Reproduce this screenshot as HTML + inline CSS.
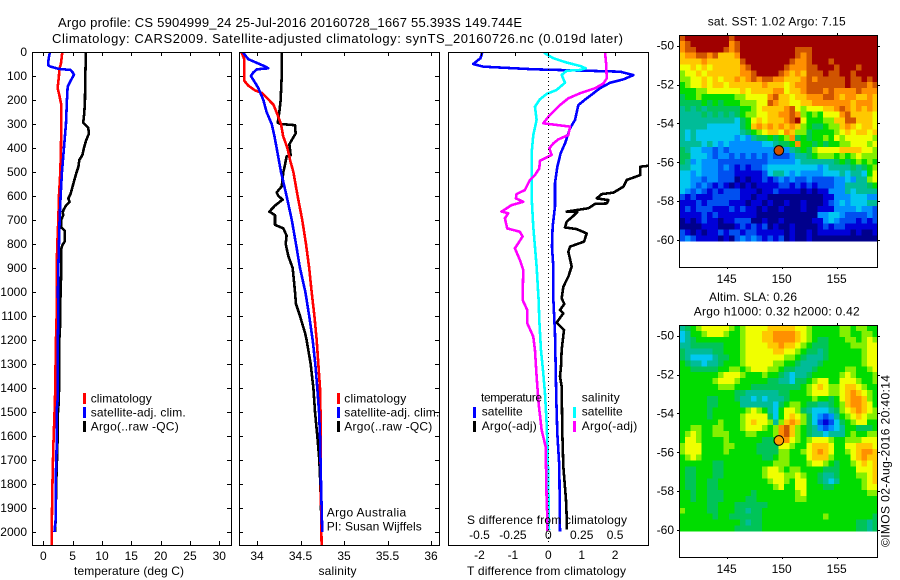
<!DOCTYPE html>
<html lang="en">
<head>
<meta charset="utf-8">
<title>Argo profile</title>
<style>
html,body{margin:0;padding:0;background:#fff;}
svg{display:block;}
text{font-family:"Liberation Sans",sans-serif;font-size:12px;fill:#000;}
.t13{font-size:13px;}
.crisp{shape-rendering:crispEdges;}
</style>
</head>
<body>
<svg id="chart" xmlns="http://www.w3.org/2000/svg" width="900" height="580" viewBox="0 0 900 580">
<defs>
<clipPath id="clip-temp"><rect x="32" y="52" width="199" height="493"/></clipPath>
<clipPath id="clip-sal"><rect x="239" y="52" width="200" height="493"/></clipPath>
<clipPath id="clip-diff"><rect x="448" y="52" width="200" height="493"/></clipPath>
</defs>
<rect width="900" height="580" fill="#fff"/>
<text class="t13" x="58" y="27" textLength="464">Argo profile: CS 5904999_24 25-Jul-2016 20160728_1667 55.393S 149.744E</text>
<text class="t13" x="52" y="43" textLength="571">Climatology: CARS2009. Satellite-adjusted climatology: synTS_20160726.nc (0.019d later)</text>

<g id="map-sst"></g>
<g id="map-sla"></g>
<g id="temp-lines" clip-path="url(#clip-temp)"></g>
<g id="sal-lines" clip-path="url(#clip-sal)"></g>
<g id="diff-lines" clip-path="url(#clip-diff)"></g>
<g id="axes"></g>

<text x="74" y="575" textLength="110">temperature (deg C)</text>
<text x="318.5" y="575" textLength="38">salinity</text>
<text x="467" y="575" textLength="159">T difference from climatology</text>
<text x="467" y="524" textLength="160">S difference from climatology</text>

<g>
<rect class="crisp" x="83" y="393" width="3" height="11" fill="#f00"/>
<rect class="crisp" x="83" y="407" width="3" height="11" fill="#00f"/>
<rect class="crisp" x="83" y="421" width="3" height="11" fill="#000"/>
<text x="90.7" y="402.3" textLength="61">climatology</text>
<text x="90.7" y="416.3" textLength="95">satellite-adj. clim.</text>
<text x="90.7" y="430.7" textLength="88">Argo(..raw -QC)</text>
</g>
<g>
<rect class="crisp" x="337" y="393" width="3" height="11" fill="#f00"/>
<rect class="crisp" x="337" y="407" width="3" height="11" fill="#00f"/>
<rect class="crisp" x="337" y="421" width="3" height="11" fill="#000"/>
<text x="344.3" y="402.3" textLength="62">climatology</text>
<text x="344.3" y="416.3" textLength="95">satellite-adj. clim.</text>
<text x="344.3" y="430.7" textLength="88">Argo(..raw -QC)</text>
<text x="326.7" y="516.7" textLength="79.5">Argo Australia</text>
<text x="326.7" y="530.7" textLength="95">PI: Susan Wijffels</text>
</g>
<g>
<rect class="crisp" x="473" y="407" width="3" height="11" fill="#00f"/>
<rect class="crisp" x="473" y="421" width="3" height="11" fill="#000"/>
<rect class="crisp" x="573" y="407" width="3" height="11" fill="#0ff"/>
<rect class="crisp" x="573" y="421" width="3" height="11" fill="#f0f"/>
<text x="481" y="401.7" textLength="61">temperature</text>
<text x="481.7" y="415.7" textLength="41">satellite</text>
<text x="481.7" y="430" textLength="55">Argo(-adj)</text>
<text x="581.7" y="401.7" textLength="38">salinity</text>
<text x="581.7" y="415.7" textLength="41">satellite</text>
<text x="581.7" y="430" textLength="55.5">Argo(-adj)</text>
</g>

<text x="707.7" y="25.3" textLength="138">sat. SST: 1.02 Argo: 7.15</text>
<text x="709" y="301" textLength="88">Altim. SLA: 0.26</text>
<text x="693.7" y="315.7" textLength="166">Argo h1000: 0.32 h2000: 0.42</text>
<text transform="translate(889.3,547) rotate(-90)" textLength="172">©IMOS 02-Aug-2016 20:40:14</text>
</svg>

<script>
// ---- tick labels ----
const depthTicks = [0,100,200,300,400,500,600,700,800,900,1000,1100,1200,1300,1400,1500,1600,1700,1800,1900,2000];
const tempTicks = [0,5,10,15,20,25,30];
const salTicks = ["34","34.5","35","35.5","36"];
const diffTTicks = ["-2","-1","0","1","2"];
const diffSTicks = ["-0.5","-0.25","0","0.25","0.5"];
const lonTicks = [145,150,155];
const latTicks = [-50,-52,-54,-56,-58,-60];

// ---- temperature profiles ----
const climTempDepth = [0,50,70,100,150,180,220,300,400,500,600,700,800,900,1000,1100,1200,1450,1650,1830,2030,2057];
const climTempValues = [3.24,3.0,2.73,2.67,2.44,2.73,3.07,3.07,3.01,2.9,2.67,2.56,2.39,2.27,2.27,2.27,2.16,1.99,1.7,1.53,1.42,1.42];
const satTempDepth = [0,20,40,55,60,70,75,85,95,105,120,145,200,300,400,500,600,700,800,900,1000,1100,1250,1450,1500,1650,1800,1950,2000];
const satTempValues = [1.14,0.97,0.85,0.85,1.14,2.56,4.66,5.0,5.23,5.0,4.66,4.15,4.03,3.86,3.52,3.18,2.95,2.78,2.67,2.56,2.5,2.56,2.44,2.44,2.27,2.27,2.1,2.1,1.9];
const argoTempDepth = [0,100,200,250,295,300,315,340,370,400,430,450,480,500,550,590,610,625,640,660,670,680,700,730,745,790,805,820,900,1000,1100,1150,1200,1300,1450,1500,1650,1800,1950,2000];
const argoTempValues = [7.27,7.16,7.1,7.0,6.8,7.0,7.66,7.78,7.27,6.93,6.65,6.14,5.97,5.68,5.11,4.66,4.26,4.49,3.86,3.41,3.3,3.41,3.01,3.01,3.69,3.63,3.24,3.07,3.07,2.95,2.84,2.84,2.73,2.7,2.66,2.5,2.4,2.2,2.1,2.0];

// ---- salinity profiles ----
const climSalDepth = [0,30,120,140,160,170,190,220,270,300,350,400,450,500,600,700,800,900,1000,1100,1200,1300,1400,1500,1700,2000,2057];
const climSalValues = [33.82,33.854,33.854,33.9,33.977,34.054,34.11,34.19,34.245,34.276,34.3,34.349,34.38,34.418,34.467,34.52,34.563,34.6,34.628,34.66,34.686,34.705,34.724,34.73,34.73,34.74,34.743];
const satSalDepth = [0,30,60,68,72,85,100,120,150,200,250,300,350,400,500,600,700,800,900,1000,1100,1200,1300,1400,1500,1600,1800,2000];
const satSalValues = [33.835,33.9,34.092,34.13,34.0,33.958,33.93,33.965,34.015,34.073,34.11,34.169,34.2,34.226,34.276,34.34,34.4,34.448,34.494,34.556,34.6,34.64,34.67,34.693,34.713,34.724,34.736,34.75];
const argoSalDepth = [0,100,200,250,295,300,305,340,360,385,430,435,470,500,560,585,600,615,640,665,680,720,735,765,800,850,900,1000,1050,1100,1170,1200,1300,1400,1500,1600,1700,1800,2000];
const argoSalValues = [34.287,34.284,34.272,34.257,34.238,34.272,34.437,34.444,34.41,34.372,34.387,34.34,34.322,34.303,34.284,34.226,34.245,34.295,34.207,34.142,34.207,34.207,34.303,34.34,34.33,34.36,34.41,34.437,34.448,34.494,34.552,34.57,34.617,34.648,34.667,34.693,34.716,34.728,34.743];

// ---- differences from climatology ----
const dTSatDepth = [3,26,50,61,72,82,96,114,128,151,193,221,283,318,381,422,478,547,644,728,811,894,1026,1172,1311,1450,1589,1727,1998];
const dTSatValues = [-1.98,-2.03,-2.25,-1.95,-0.45,2.15,2.55,2.25,1.85,1.55,1.15,0.9,0.8,0.65,0.5,0.37,0.27,0.2,0.2,0.13,0.11,0.15,0.15,0.2,0.22,0.24,0.27,0.33,0.35];
const dTArgoDepth = [0,300,450,474,478,513,533,561,586,592,610,617,631,633,651,665,666,683,707,731,738,756,790,811,832,894,936,978,1026,1050,1075,1089,1127,1158,1241,1311,1352,1394,1589,1727,1866,1936,1990];
const dTArgoValues = [4.0,3.6,3.2,3.0,2.75,2.75,2.35,2.25,1.95,1.6,1.45,1.8,1.75,1.4,1.2,0.55,0.87,0.75,0.55,0.5,0.85,1.15,1.07,0.65,0.6,0.7,0.6,0.45,0.4,0.48,0.35,0.45,0.25,0.47,0.4,0.38,0.35,0.4,0.42,0.45,0.53,0.55,0.55];
const dSSatDepth = [3,26,44,58,68,75,78,96,128,158,175,197,228,283,346,422,506,603,728,811,894,1033,1116,1241,1339,1422,1547,1658,1797,1991];
const dSSatValues = [-0.0325,0.0375,0.1375,0.2375,0.28,0.2375,0.1375,0.1,0.125,0.0625,-0.0125,-0.0625,-0.1,-0.0875,-0.1125,-0.125,-0.125,-0.125,-0.1125,-0.1,-0.0875,-0.0725,-0.0675,-0.055,-0.0375,-0.025,-0.0125,-0.005,0,0.005];
const dSArgoDepth = [3,47,110,131,151,172,193,221,242,262,297,304,311,346,364,381,401,429,453,485,513,533,575,592,610,624,638,665,672,693,735,749,769,818,867,908,1033,1075,1130,1186,1241,1352,1464,1575,1644,1866,1936,1995];
const dSArgoValues = [0.425,0.4325,0.4375,0.4125,0.35,0.2375,0.15,0.0875,0.05,0.0125,-0.0375,0.0625,0.1625,0.15,0.075,0.0375,0.0075,0.025,-0.0625,-0.0675,-0.1,-0.1375,-0.175,-0.2375,-0.2425,-0.1875,-0.275,-0.35,-0.3,-0.325,-0.3075,-0.2125,-0.1925,-0.25,-0.2125,-0.1875,-0.1925,-0.1575,-0.1575,-0.1125,-0.1,-0.0875,-0.0725,-0.05,-0.02,-0.0125,-0.0075,-0.0075];

// ---- map cell values (colour scale level 0 to 13) ----
const sstGrid = [
[12,13,13,13,13,13,13,13,13,12,13,13,13,13,13,13,13,13,13,13,13,13,13,13,13,13,13,13,13,13,13,13,13,13,13,13],
[11,12,13,13,13,13,13,13,13,11,12,13,13,13,13,13,13,13,13,13,13,13,13,13,13,13,13,13,13,13,13,13,13,13,13,13],
[11,12,12,13,13,13,13,13,12,11,12,13,13,13,13,13,13,13,13,13,13,12,12,12,13,13,13,13,13,13,13,13,13,13,13,13],
[10,11,11,12,12,11,12,10,10,10,11,13,13,13,13,13,13,13,13,13,13,12,11,12,13,13,13,13,13,13,13,13,13,13,13,13],
[10,10,10,10,11,10,10,10,10,10,10,12,13,13,13,13,13,13,13,13,12,11,11,12,13,13,13,12,13,13,13,13,13,13,13,13],
[9,9,10,9,10,9,10,10,10,10,10,11,12,13,13,13,13,13,13,12,11,11,11,12,12,13,13,13,12,13,13,13,12,13,13,13],
[8,9,9,10,9,10,10,10,10,10,10,11,11,12,13,13,13,13,12,11,10,11,10,12,12,12,13,12,12,13,13,12,13,13,13,13],
[8,8,9,9,10,9,10,9,10,10,11,10,11,12,11,12,12,11,11,10,10,10,11,12,11,12,12,12,12,12,13,12,12,13,12,13],
[7,8,9,9,10,9,10,10,9,10,10,10,10,10,10,11,10,10,10,9,10,11,11,12,12,12,12,12,12,12,13,12,12,12,11,12],
[7,7,7,8,8,9,9,9,9,9,9,10,9,10,10,10,10,11,11,9,10,10,11,12,12,12,11,12,11,11,11,11,12,11,11,11],
[6,7,7,8,7,7,7,7,7,7,8,8,9,9,9,9,11,12,10,10,9,10,10,11,11,11,12,12,11,10,11,11,10,10,11,10],
[6,6,6,6,7,6,7,6,7,7,7,8,8,8,9,9,12,11,10,10,9,9,10,10,11,11,11,11,11,11,11,10,11,11,11,10],
[5,6,5,6,5,6,6,6,6,6,6,7,7,8,9,10,10,10,10,11,12,9,8,9,9,9,10,10,11,12,11,10,11,10,11,10],
[5,5,5,5,6,5,6,5,6,5,6,7,8,8,9,9,10,10,11,11,12,11,8,7,8,7,9,9,9,11,12,10,10,10,10,9],
[5,5,5,5,5,5,5,5,5,5,4,6,7,9,10,9,10,10,10,11,12,13,9,7,7,7,8,8,10,10,12,12,10,10,10,9],
[5,5,5,5,5,4,4,4,4,4,4,6,7,10,11,10,11,10,11,10,11,10,8,7,6,6,7,8,8,10,11,10,9,10,10,9],
[5,4,5,4,4,4,4,4,4,4,4,5,6,7,8,9,10,10,9,11,10,8,8,6,7,7,7,7,8,9,10,9,10,10,9,10],
[5,4,5,4,4,4,4,4,4,4,3,4,3,5,6,6,7,6,7,8,11,6,7,6,7,7,8,7,9,8,9,9,9,9,9,8],
[5,5,5,5,4,5,4,3,4,3,3,3,3,3,3,4,4,5,6,6,7,11,7,7,6,7,6,7,7,8,8,9,9,9,8,9],
[6,5,4,4,3,3,2,3,2,3,3,3,3,3,3,3,3,3,3,3,5,6,7,6,8,9,9,9,9,10,10,10,10,9,9,8],
[6,6,4,4,4,3,2,3,3,2,3,2,3,2,3,2,3,2,2,2,3,5,5,6,7,8,8,8,7,8,7,8,9,8,8,8],
[6,5,3,4,3,3,3,2,2,2,2,2,2,2,2,2,3,3,3,3,3,4,5,5,5,5,5,5,6,7,6,7,8,7,8,7],
[5,5,4,4,3,3,3,2,3,2,1,2,1,2,2,3,4,4,4,4,4,4,4,4,4,3,4,5,5,5,5,6,5,6,7,8],
[4,4,3,4,3,3,3,2,2,2,1,1,1,1,1,2,4,5,5,4,3,4,3,3,3,3,4,4,4,5,4,5,5,4,7,9],
[4,4,3,3,2,3,3,2,2,2,0,1,0,1,1,2,1,2,3,2,3,2,2,3,2,2,2,2,3,3,4,3,5,5,8,9],
[4,4,3,2,3,2,1,2,1,0,1,0,1,0,1,1,1,1,2,2,1,2,1,2,1,2,2,2,3,3,5,5,5,5,6,7],
[4,3,2,3,2,1,2,1,2,2,2,1,1,1,0,1,1,2,1,1,1,1,0,1,0,1,1,3,3,3,5,4,5,5,5,5],
[2,1,2,1,1,1,2,2,2,2,2,1,1,0,1,1,0,0,0,0,0,0,0,0,0,0,1,1,3,3,3,4,4,4,3,3],
[1,1,1,2,1,2,2,2,2,1,1,1,0,1,1,0,1,0,0,1,0,0,1,0,0,0,1,2,3,4,3,4,4,4,5,5],
[1,2,1,2,2,2,1,1,1,2,1,2,1,1,0,1,0,0,1,0,0,0,1,0,0,1,1,1,3,3,3,3,4,3,3,2],
[1,1,1,1,2,1,2,1,1,1,1,1,1,1,0,0,0,0,0,0,0,0,0,0,0,3,3,4,4,3,2,2,2,2,3,2],
[0,1,0,1,2,1,1,0,1,1,2,2,2,0,0,1,0,0,1,0,0,0,0,0,1,1,3,4,3,2,2,2,1,2,1,2],
[0,0,0,0,1,1,1,0,0,0,1,2,1,2,1,2,0,1,0,0,1,0,0,0,0,1,2,1,2,2,1,1,1,1,1,1],
[2,1,0,1,0,1,1,2,1,2,2,1,2,2,1,1,1,1,1,0,1,0,0,1,0,1,1,1,1,1,1,0,1,0,0,1],
[2,3,2,1,1,1,1,0,1,0,2,3,2,3,2,1,2,1,2,0,1,0,0,1,0,0,0,0,0,0,0,0,0,0,0,0]
];
const slaGrid = [
[5,6,7,8,9,9,9,9,9,8,7,8,9,9,9,9,10,10,10,10,10,9,9,8,7,7,7,7,7,8,8,7,8,8,7,7],
[4,5,7,7,8,9,9,9,8,7,7,8,9,9,9,10,10,11,11,11,11,10,9,8,7,7,7,7,7,8,8,7,7,8,8,7],
[4,5,6,7,7,7,7,7,7,7,7,8,9,9,9,10,10,11,11,11,11,10,9,8,7,6,6,7,7,7,8,8,7,8,9,8],
[5,5,6,6,6,6,6,6,7,7,7,8,9,9,9,9,10,10,11,10,10,9,8,7,6,6,6,7,7,7,7,8,8,8,9,9],
[6,5,5,5,5,5,6,6,7,7,7,8,9,9,9,9,9,10,10,9,9,8,7,6,6,5,6,7,7,7,7,7,7,8,9,9],
[6,5,4,4,4,4,5,6,6,7,7,8,9,9,9,9,9,9,9,8,8,7,6,5,5,5,6,7,7,7,7,7,7,8,9,9],
[7,6,5,5,4,5,5,6,7,7,7,8,9,9,9,9,9,8,8,7,7,6,5,5,5,6,7,7,7,7,7,7,7,8,9,9],
[7,7,6,6,6,6,6,7,7,8,8,7,8,9,9,9,8,8,7,6,6,5,5,5,6,7,7,7,7,7,8,8,7,7,8,9],
[7,7,7,7,7,7,7,8,9,9,9,8,7,7,7,8,7,7,6,5,4,5,5,6,7,7,7,7,7,8,9,8,7,7,7,8],
[7,7,7,7,7,7,8,9,9,9,8,7,7,7,7,7,6,6,5,5,4,6,6,7,8,9,9,7,7,9,9,9,8,7,7,8],
[7,7,7,7,7,7,7,8,8,8,7,7,7,6,6,6,6,6,6,6,6,6,7,8,9,10,9,8,8,9,10,10,9,8,7,7],
[7,7,7,7,7,7,7,7,7,7,6,6,5,5,5,5,5,5,6,6,7,7,7,8,9,9,9,8,8,9,10,11,10,9,8,7],
[7,7,7,7,7,6,6,7,7,7,6,5,5,4,5,4,5,5,5,6,7,7,7,7,8,7,7,6,7,9,10,11,11,10,8,7],
[7,7,7,7,7,6,6,7,7,7,7,5,5,5,5,5,5,4,6,7,8,8,7,6,6,5,5,6,7,8,10,11,11,10,9,7],
[7,7,7,7,7,6,7,7,7,7,7,7,8,9,8,7,5,4,7,9,9,8,6,5,4,4,4,5,6,8,9,10,11,10,9,8],
[7,7,7,7,7,6,7,7,7,7,7,8,9,9,9,9,6,4,7,9,10,9,8,6,4,3,2,3,5,7,8,9,10,9,8,8],
[7,7,7,7,7,7,7,8,7,7,7,8,9,10,9,9,8,5,8,10,11,10,8,6,4,2,1,2,4,6,7,8,9,9,7,7],
[7,7,8,8,7,7,8,8,7,7,7,8,9,9,9,8,7,8,11,12,10,8,7,6,5,3,2,3,4,5,7,7,6,6,6,7],
[7,8,9,8,7,7,8,8,8,7,7,7,8,8,7,7,7,8,11,12,10,8,7,6,5,5,4,5,5,5,7,8,7,7,8,8],
[7,9,9,8,7,7,7,7,8,7,7,7,7,7,7,6,6,7,10,11,9,8,7,8,9,9,9,8,7,7,8,8,8,9,9,9],
[8,9,9,9,7,7,7,7,8,8,7,7,7,7,6,6,6,6,9,9,8,7,7,9,10,10,10,9,7,7,9,9,10,10,10,9],
[8,9,9,9,7,7,7,7,8,7,7,7,7,7,6,6,6,6,8,8,7,7,8,9,10,11,10,9,7,7,8,9,10,11,11,10],
[7,8,9,8,7,7,7,7,7,7,7,7,7,7,7,6,6,7,8,8,7,7,7,9,10,10,10,8,7,7,7,9,10,11,10,10],
[7,7,7,7,7,7,6,6,7,7,7,7,7,7,7,7,7,8,8,8,7,7,7,8,9,9,8,7,6,7,7,8,9,10,9,10],
[7,6,6,7,7,7,6,6,7,7,7,7,7,7,7,8,9,9,8,7,8,8,7,7,7,7,6,6,6,7,7,7,9,9,9,10],
[7,6,6,7,7,7,6,6,7,7,7,7,7,7,7,8,9,9,9,8,8,9,8,7,7,6,5,5,6,7,7,7,8,8,9,10],
[7,6,6,7,7,6,6,7,7,7,7,7,7,7,7,7,8,9,9,8,7,9,9,7,7,6,5,4,5,7,7,7,7,8,9,10],
[7,6,6,7,7,6,6,7,7,7,7,7,7,7,7,7,7,8,9,7,7,9,9,7,7,7,6,6,7,7,7,7,7,8,9,9],
[7,7,6,7,7,6,6,6,7,7,7,7,7,6,7,7,7,7,7,7,7,8,9,7,7,7,7,7,7,7,7,7,7,7,8,8],
[7,7,6,7,7,6,6,6,7,7,7,7,6,6,7,7,7,7,7,7,7,8,8,7,7,7,7,7,7,7,7,7,7,7,7,7],
[7,7,7,7,7,6,6,7,7,7,6,6,6,6,6,6,7,7,7,7,7,7,7,7,7,7,7,7,7,7,7,7,7,7,7,7],
[8,7,7,7,7,6,6,7,7,7,6,6,5,6,6,7,7,7,7,7,7,7,7,7,7,7,7,7,7,7,7,7,7,7,7,7],
[7,7,7,7,7,7,6,7,7,6,6,6,6,6,6,7,7,7,7,7,7,7,7,7,7,7,8,7,7,7,7,7,7,7,7,6],
[7,7,7,7,7,7,7,7,7,7,7,6,5,6,6,7,7,7,7,7,7,7,7,7,7,7,7,7,7,7,7,7,6,6,5,6],
[7,7,7,7,7,7,7,7,7,7,6,6,6,6,6,7,7,7,7,7,7,7,7,7,7,7,7,7,7,7,7,7,6,6,5,6]
];
const argoLon = 149.744;
const argoLat = -55.393;

// ---- scales ----
const NS = 'http://www.w3.org/2000/svg';
const colourScale = ['#00008c','#0000d8','#0050f0','#0090ff','#00c8f0','#00bc98','#00c458','#00dc00','#84f000','#f0ff00','#ffc800','#ff9000','#d05400','#a00000'];
const depthY = d => 52 + d * 0.24;
const tempX = t => 43.3 + t * 5.867;
const salX = s => 257 + (s - 34) * 87;
const dTX = t => 548.3 + t * 33.4;
const dSX = s => 548.3 + s * 133.6;
const lonX = lon => 726.7 + (lon - 145) * 11;
const latY = (lat, top) => top + 10.7 + (-50 - lat) * 19.43;

function svgEl(tag, parent) {
  const el = document.createElementNS(NS, tag);
  parent.appendChild(el);
  return el;
}

function drawProfile(parentId, name, depths, values, xFn, colour, width) {
  const el = svgEl('polyline', document.getElementById(parentId));
  
  
  el.setAttribute('points', depths.map((d, i) => xFn(values[i]).toFixed(2) + ',' + depthY(d).toFixed(2)).join(' '));
  el.setAttribute('fill', 'none');
  el.setAttribute('stroke', colour);
  el.setAttribute('stroke-width', width);
  el.setAttribute('stroke-linejoin', 'round');
  el.setAttribute('shape-rendering', 'crispEdges');
}

function drawTick(parent, name, x1, y1, x2, y2) {
  const el = svgEl('line', parent);
  
  
  el.setAttribute('x1', x1);
  el.setAttribute('y1', y1);
  el.setAttribute('x2', x2);
  el.setAttribute('y2', y2);
  el.setAttribute('stroke', '#000');
  el.setAttribute('stroke-width', 1);
  el.setAttribute('shape-rendering', 'crispEdges');
}

function drawLabel(parent, name, x, y, anchor, content) {
  const el = svgEl('text', parent);
  
  
  el.setAttribute('x', x);
  el.setAttribute('y', y);
  el.setAttribute('text-anchor', anchor);
  el.textContent = content;
}

function drawFrame(parent, name, x, y, w, h) {
  const el = svgEl('rect', parent);
  
  
  el.setAttribute('x', x + 0.5);
  el.setAttribute('y', y + 0.5);
  el.setAttribute('width', w);
  el.setAttribute('height', h);
  el.setAttribute('fill', 'none');
  el.setAttribute('stroke', '#000');
  el.setAttribute('stroke-width', 1);
  el.setAttribute('shape-rendering', 'crispEdges');
}

function drawMap(groupId, grid, top, markerColour) {
  const g = document.getElementById(groupId);
  const lonStep = 18.05 / grid[0].length;
  const latStep = 10.62 / grid.length;
  const lon0 = 140.7;
  const lat0 = -49.45;
  grid.forEach((row, r) => {
    row.forEach((v, c) => {
      const el = svgEl('rect', g);
      
      
      const x0 = lonX(lon0 + c * lonStep);
      const x1 = lonX(lon0 + (c + 1) * lonStep);
      const y0 = latY(lat0 - r * latStep, top);
      const y1 = latY(lat0 - (r + 1) * latStep, top);
      el.setAttribute('x', x0.toFixed(2));
      el.setAttribute('y', y0.toFixed(2));
      el.setAttribute('width', (x1 - x0).toFixed(2));
      el.setAttribute('height', (y1 - y0).toFixed(2));
      el.setAttribute('fill', colourScale[Math.max(0, Math.min(colourScale.length - 1, Math.round(v)))]);
      el.setAttribute('shape-rendering', 'crispEdges');
    });
  });
  const marker = svgEl('circle', g);
  
  
  marker.setAttribute('cx', lonX(argoLon));
  marker.setAttribute('cy', latY(argoLat, top));
  marker.setAttribute('r', 4.8);
  marker.setAttribute('fill', markerColour);
  marker.setAttribute('stroke', '#000');
  marker.setAttribute('stroke-width', 1);
  const axes = svgEl('g', g);
  
  
  drawFrame(axes, 'map-frame', 679, top, 198, 232);
  lonTicks.forEach(lon => {
    const x = Math.round(lonX(lon)) + 0.5;
    drawTick(axes, 'map-lon-tick', x, top - 2, x, top);
    drawTick(axes, 'map-lon-tick', x, top + 232, x, top + 234);
    drawLabel(axes, 'map-lon-label', lonX(lon), top + 248, 'middle', String(lon));
  });
  latTicks.forEach(lat => {
    const y = Math.round(latY(lat, top)) + 0.5;
    drawTick(axes, 'map-lat-tick', 677, y, 679, y);
    drawTick(axes, 'map-lat-tick', 878, y, 880, y);
    drawLabel(axes, 'map-lat-label', 674, latY(lat, top) + 4, 'end', String(lat));
  });
}

drawMap('map-sst', sstGrid, 35, '#d05000');
drawMap('map-sla', slaGrid, 325, '#ffa000');

drawProfile('temp-lines', 'argo-temperature-line', argoTempDepth, argoTempValues, tempX, '#000', 2.6);
drawProfile('temp-lines', 'climatology-temperature-line', climTempDepth, climTempValues, tempX, '#f00', 2.6);
drawProfile('temp-lines', 'satellite-temperature-line', satTempDepth, satTempValues, tempX, '#00f', 2.6);
drawProfile('sal-lines', 'argo-salinity-line', argoSalDepth, argoSalValues, salX, '#000', 2.6);
drawProfile('sal-lines', 'climatology-salinity-line', climSalDepth, climSalValues, salX, '#f00', 2.6);
drawProfile('sal-lines', 'satellite-salinity-line', satSalDepth, satSalValues, salX, '#00f', 2.6);
drawProfile('diff-lines', 't-satellite-difference-line', dTSatDepth, dTSatValues, dTX, '#00f', 2.6);
drawProfile('diff-lines', 't-argo-difference-line', dTArgoDepth, dTArgoValues, dTX, '#000', 2.6);
drawProfile('diff-lines', 's-satellite-difference-line', dSSatDepth, dSSatValues, dSX, '#0ff', 2.6);
drawProfile('diff-lines', 's-argo-difference-line', dSArgoDepth, dSArgoValues, dSX, '#f0f', 2.6);

const axes = document.getElementById('axes');
drawFrame(axes, 'temperature-panel-frame', 32, 52, 199, 493);
drawFrame(axes, 'salinity-panel-frame', 239, 52, 200, 493);
drawFrame(axes, 'difference-panel-frame', 448, 52, 200, 493);

const zeroLine = svgEl('line', axes);


zeroLine.setAttribute('x1', 548.5);
zeroLine.setAttribute('y1', 53);
zeroLine.setAttribute('x2', 548.5);
zeroLine.setAttribute('y2', 545);
zeroLine.setAttribute('stroke', '#000');
zeroLine.setAttribute('stroke-dasharray', '1 3');
zeroLine.setAttribute('shape-rendering', 'crispEdges');

depthTicks.forEach(d => {
  const y = Math.round(depthY(d)) + 0.5;
  drawTick(axes, 'temperature-depth-tick', 32, y, 36, y);
  drawTick(axes, 'temperature-depth-tick', 227, y, 231, y);
  drawTick(axes, 'salinity-depth-tick', 239, y, 243, y);
  drawTick(axes, 'salinity-depth-tick', 435, y, 439, y);
  drawLabel(axes, 'depth-tick-label', 27, depthY(d) + 4, 'end', String(d));
});
tempTicks.forEach(t => {
  const x = Math.round(tempX(t)) + 0.5;
  drawTick(axes, 'temperature-x-tick', x, 52, x, 56);
  drawTick(axes, 'temperature-x-tick', x, 541, x, 545);
  drawLabel(axes, 'temperature-tick-label', tempX(t), 560, 'middle', String(t));
});
salTicks.forEach(s => {
  const x = Math.round(salX(parseFloat(s))) + 0.5;
  drawTick(axes, 'salinity-x-tick', x, 52, x, 56);
  drawTick(axes, 'salinity-x-tick', x, 541, x, 545);
  drawLabel(axes, 'salinity-tick-label', salX(parseFloat(s)), 560, 'middle', s);
});
diffTTicks.forEach(t => {
  const x = Math.round(dTX(parseFloat(t))) + 0.5;
  drawTick(axes, 't-difference-tick', x, 52, x, 56);
  drawLabel(axes, 't-difference-tick-label', dTX(parseFloat(t)) - (t[0] === '-' ? 2 : 0), 559, 'middle', t);
});
diffSTicks.forEach(s => {
  drawLabel(axes, 's-difference-tick-label', dSX(parseFloat(s)) - (s[0] === '-' ? 2 : 0), 539, 'middle', s);
});
</script>
</body>
</html>
